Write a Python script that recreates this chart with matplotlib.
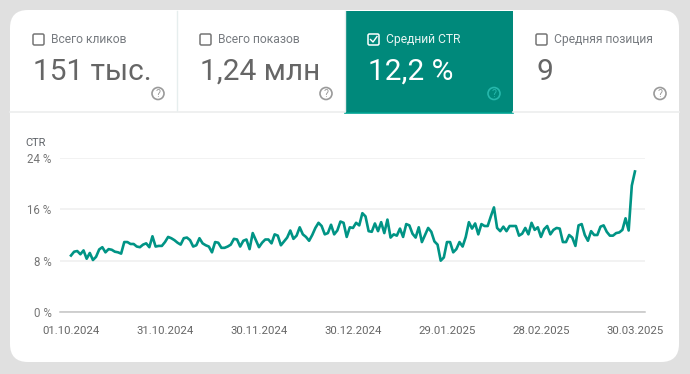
"""Search Console CTR card"""

import pandas as pd
import matplotlib
matplotlib.use('Agg')
import matplotlib.pyplot as plt
from matplotlib.patches import FancyBboxPatch, Rectangle, Circle

plt.rcParams['font.family'] = ['Roboto', 'DejaVu Sans']

W, H = 690, 374
TEAL = '#00897b'
LINE = '#009485'
GREY = '#5f6368'

card_titles = ['Всего кликов', 'Всего показов', 'Средний CTR', 'Средняя позиция']
card_values = ['151 тыс.', '1,24 млн', '12,2 %', '9']
card_active = [False, False, True, False]

start_date = '2024-10-01'
ctr = [
    8.8, 9.4, 9.5, 9.0, 9.6, 8.3, 9.2, 8.1, 8.6, 9.75,
    10.1, 9.3, 9.8, 9.7, 9.4, 9.3, 9.1, 10.9, 10.9, 10.6,
    10.6, 10.2, 10.1, 10.5, 10.7, 10.1, 11.8, 10.2, 10.3, 10.3,
    10.9, 11.7, 11.5, 11.2, 10.8, 10.5, 11.5, 11.6, 11.2, 10.2,
    10.4, 11.5, 10.7, 10.4, 10.2, 9.3, 10.9, 10.8, 10.0, 10.0,
    10.2, 10.5, 11.4, 11.3, 10.2, 11.1, 11.3, 9.8, 12.3, 11.2,
    10.1, 10.8, 11.3, 11.3, 10.7, 12.1, 11.9, 10.4, 11.0, 11.6,
    12.7, 11.4, 11.9, 13.2, 12.1, 11.7, 11.1, 12.0, 13.1, 13.9,
    13.4, 12.1, 12.3, 13.6, 12.1, 12.7, 14.1, 13.9, 11.7, 13.2,
    13.1, 13.9, 13.5, 15.4, 14.9, 12.6, 12.5, 13.8, 12.6, 14.0,
    12.3, 14.4, 11.6, 12.1, 11.9, 13.0, 11.7, 13.7, 13.5, 12.2,
    11.6, 13.2, 10.9, 12.0, 13.1, 12.5, 11.0, 10.5, 8.0, 8.5,
    10.9, 10.9, 9.3, 9.8, 10.9, 10.2, 11.7, 14.0, 13.0, 13.8,
    12.1, 13.7, 13.4, 13.4, 14.9, 16.3, 13.1, 12.6, 13.3, 12.6,
    13.4, 13.4, 13.4, 11.9, 12.2, 13.1, 12.1, 13.9, 12.8, 13.2,
    11.7, 12.9, 13.4, 12.1, 12.8, 13.1, 13.0, 10.9, 10.9, 12.0,
    11.6, 10.3, 13.5, 13.7, 12.0, 11.1, 12.6, 12.0, 12.0, 13.3,
    13.5, 12.5, 11.9, 11.9, 12.3, 12.4, 12.8, 14.6, 12.7, 19.7,
    21.9,
]
y_ticks = [0, 8, 16, 24]
y_labels = ['0 %', '8 %', '16 %', '24 %']
x_labels = ['01.10.2024', '31.10.2024', '30.11.2024', '30.12.2024',
            '29.01.2025', '28.02.2025', '30.03.2025']

dates = pd.date_range(start_date, periods=len(ctr), freq='D')

fig = plt.figure(figsize=(W / 100, H / 100), dpi=100, facecolor='#e0e0e0')

# pixel-coordinate layer for the card and the tiles
bg = fig.add_axes([0, 0, 1, 1])
bg.set_xlim(0, W)
bg.set_ylim(H, 0)
bg.axis('off')

bg.add_patch(FancyBboxPatch((10 + 18, 10 + 18), 669 - 36, 352 - 36,
                            boxstyle='round,pad=18,rounding_size=18',
                            fc='white', ec='none'))

tile_edges = [10, 177, 345, 513, 679]
for i, title in enumerate(card_titles):
    x0, x1 = tile_edges[i], tile_edges[i + 1]
    active = card_active[i]
    if active:
        bg.add_patch(Rectangle((x0, 11), x1 - x0, 102, fc=TEAL, ec='none'))
    elif i < 2:
        bg.plot([x1, x1], [11, 111], color='#e6eeee', lw=1)
    box_x = x0 + 23
    bg.add_patch(FancyBboxPatch((box_x, 34), 11, 11,
                                boxstyle='round,pad=0,rounding_size=1.5',
                                fc='none', ec='white' if active else '#757575',
                                lw=1.1))
    if active:
        bg.plot([box_x + 2.5, box_x + 5, box_x + 9], [39.5, 42, 36.5],
                color='white', lw=1)
    bg.text(x0 + 41, 39.5, title, fontsize=8.7, color='#e8f5f3' if active else '#777b80',
            va='center', ha='left')
    bg.text(x0 + 23, 72, card_values[i], fontsize=21.5,
            color='white' if active else '#666666', va='center', ha='left')
    # help icon
    hx, hy = x1 - 19, 93.5
    hc = '#26b8ac' if active else '#9a9a9a'
    bg.add_patch(Circle((hx, hy), 6, fc='none', ec=hc, lw=1.2))
    bg.text(hx, hy, '?', fontsize=7.5, color=hc, ha='center', va='center')

bg.plot([345, 513], [112.5, 112.5], color='#00a393', lw=1.2)
bg.plot([10, 345], [112, 112], color='#eceeee', lw=1.2)
bg.plot([513, 679], [112, 112], color='#eceeee', lw=1.2)

bg.text(25, 143, 'CTR', fontsize=8, color=GREY, va='center', ha='left')

# chart axes, 0 % at y=312 and 24 % at y=158, first day at x=71
left, right, top, bottom = 60, 645, 158, 312
ax = fig.add_axes([left / W, 1 - bottom / H, (right - left) / W, (bottom - top) / H])
ax.patch.set_alpha(0)
ax.plot(dates, ctr, color=LINE, lw=1.9, solid_joinstyle='round', clip_on=False, zorder=3)

day = pd.Timedelta(days=1)
ax.set_xlim(dates[0] - day * (71 - left) / 3.133, dates[0] + day * (right - 71) / 3.133)
ax.set_ylim(0, 24)
ax.set_yticks(y_ticks)
ax.set_yticklabels(y_labels, fontsize=8.3, color='#757575')
ax.set_xticks(dates[::30])
ax.set_xticklabels(x_labels, fontsize=8.2, color='#666666')
ax.tick_params(axis='x', length=0, pad=10)
ax.tick_params(axis='y', length=0, pad=6)
ax.grid(axis='y', color='#f0f0f0', lw=1.2)
ax.set_axisbelow(True)
for side in ['top', 'left', 'right']:
    ax.spines[side].set_visible(False)
ax.spines['bottom'].set_color('#c4c4c4')
ax.spines['bottom'].set_linewidth(1.1)

fig.savefig('out.png', dpi=100, facecolor=fig.get_facecolor())
